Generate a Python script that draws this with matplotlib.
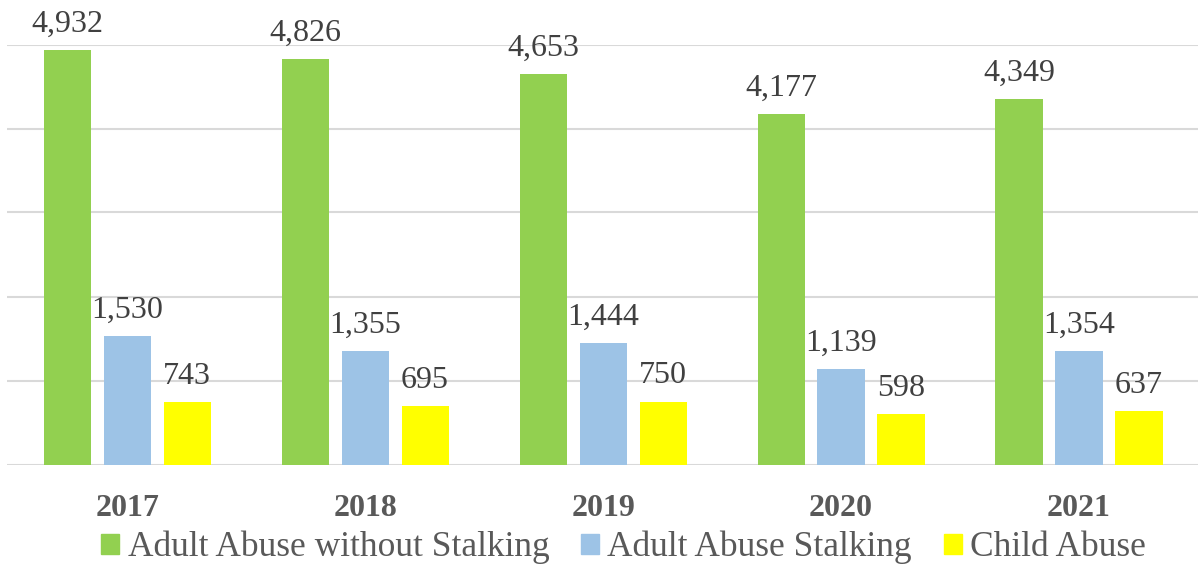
import matplotlib
matplotlib.use("Agg")
import matplotlib.pyplot as plt
import numpy as np
from matplotlib.patches import Patch

years = ["2017", "2018", "2019", "2020", "2021"]
series_names = ["Adult Abuse without Stalking", "Adult Abuse Stalking", "Child Abuse"]
no_stalking = [4932, 4826, 4653, 4177, 4349]
stalking = [1530, 1355, 1444, 1139, 1354]
child = [743, 695, 750, 598, 637]
colors = ["#92D050", "#9DC3E6", "#FFFF00"]

plt.rcParams["font.family"] = ["Liberation Serif", "DejaVu Serif"]

fig = plt.figure(figsize=(11.98, 5.67), dpi=100)
ax = fig.add_axes([7 / 1198, 1 - 464.5 / 567, 1 - 7 / 1198, 420 / 567])

x = np.arange(len(years))
w = 0.198
for i, (vals, c) in enumerate(zip([no_stalking, stalking, child], colors)):
    xs = x + (i - 1) * 0.252
    ax.bar(xs, vals, width=w, color=c, zorder=2)
    for xi, v in zip(xs, vals):
        ax.annotate(f"{v:,}", (xi, v), xytext=(0, 13), textcoords="offset points",
                    ha="center", va="baseline", fontsize=23, color="#404040",
                    annotation_clip=False)

ax.set_xlim(-0.505, 4.5)
ax.set_ylim(0, 5000)
ax.set_yticks(range(0, 5001, 1000))
ax.yaxis.grid(True, color="#D9D9D9", lw=1.5, zorder=0)
ax.tick_params(axis="y", left=False, labelleft=False)
ax.tick_params(axis="x", length=0, pad=21)
ax.set_xticks(x)
ax.set_xticklabels(years, fontsize=23, fontweight="bold", color="#595959")
for s in ax.spines.values():
    s.set_visible(False)

handles = [Patch(color=c) for c in colors]
fig.legend(handles, series_names, loc="center", bbox_to_anchor=(0.5205, 0.034),
           ncol=3, frameon=False, fontsize=25.5, labelcolor="#595959",
           handlelength=0.51, handleheight=0.51, handletextpad=0.23, columnspacing=0.9,
           borderpad=0.1)

fig.savefig("out.png", dpi=100)
